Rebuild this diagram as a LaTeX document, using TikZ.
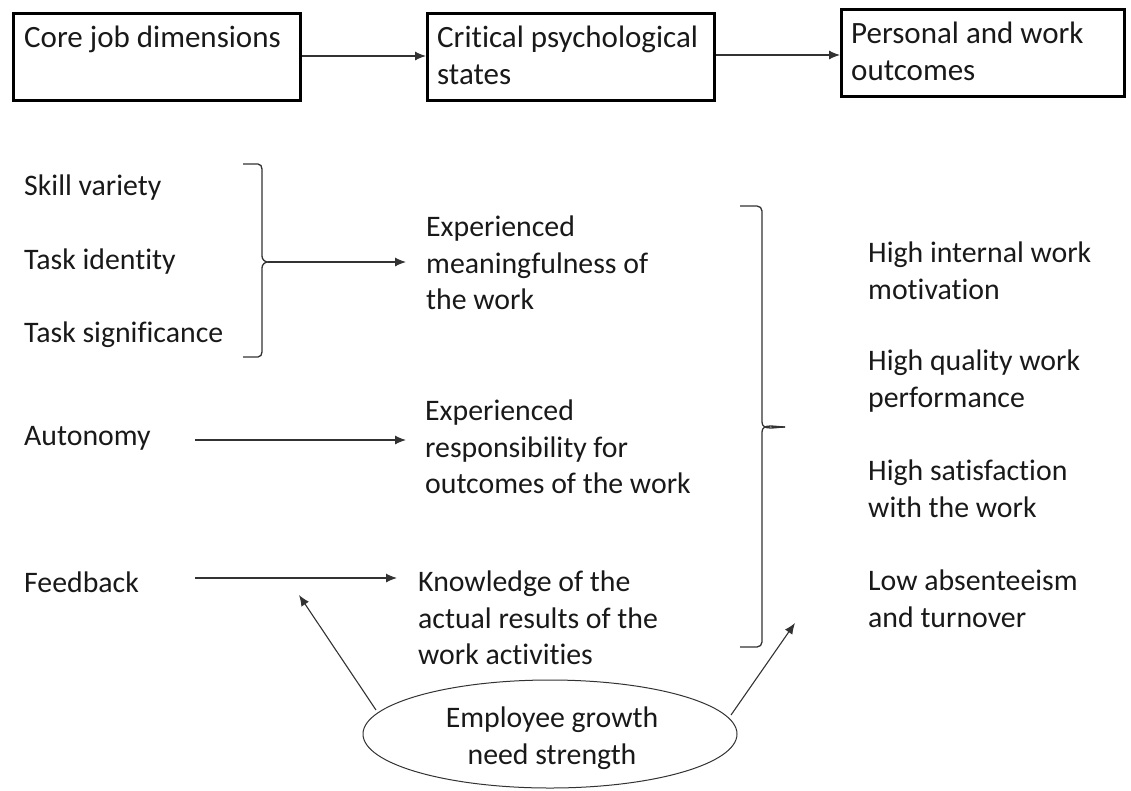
\documentclass[tikz,border=0pt]{standalone}
\usepackage{fontspec}
\setmainfont[Ligatures=NoCommon]{Carlito}
\usetikzlibrary{shapes.geometric,arrows.meta}
\definecolor{txt}{RGB}{25,25,25}
\definecolor{ln}{RGB}{50,50,50}
\tikzset{
  box/.style={draw=black,line width=2.6pt,minimum width=287pt,minimum height=87pt,anchor=north west,inner sep=0pt},
  lbl/.style={text=txt,align=left,inner sep=0pt,font=\fontsize{29.8}{36.6}\selectfont},
  toplbl/.style={lbl,font=\fontsize{31}{37}\selectfont},
  arr/.style={draw=ln,line width=1.1pt,-{Latex[length=11pt,width=9pt]}},
  brk/.style={draw=ln,line width=1.3pt},
  ell/.style={draw=ln,line width=1pt,ellipse,minimum width=374pt,minimum height=108pt,inner sep=0pt}
}
\begin{document}
\begin{tikzpicture}[x=1pt,y=-1pt]
\useasboundingbox (0,0) rectangle (1131,790);
% top boxes
\node[box] (b1) at (12,12) {};
\node[box] (b2) at (426,12) {};
\node[box,minimum width=283pt] (b3) at (840,8) {};
\node[toplbl,anchor=west] (t1) at (24,39) {Core job dimensions};
\node[toplbl,anchor=west] (t2) at (437,55) {Critical psychological\\states};
\node[toplbl,anchor=west] (t3) at (851,51) {Personal and work\\outcomes};
\draw[arr] (b1.east |- 0,56) -- (b2.west |- 0,56);
\draw[arr] (b2.east |- 0,55) -- (b3.west |- 0,55);
% left column
\node[lbl,anchor=west] (sv) at (24,188) {Skill variety};
\node[lbl,anchor=west] (ti) at (24,262) {Task identity};
\node[lbl,anchor=west] (ts) at (24,335) {Task significance};
\node[lbl,anchor=west] (au) at (24,438) {Autonomy};
\node[lbl,anchor=west] (fb) at (24,582) {Feedback};
% middle column
\node[lbl,anchor=west] (em) at (426,263) {Experienced\\meaningfulness of\\the work};
\node[lbl,anchor=west] (er) at (425,447) {Experienced\\responsibility for\\outcomes of the work};
\node[lbl,anchor=west] (kn) at (418,618) {Knowledge of the\\actual results of the\\work activities};
% right column
\node[lbl,anchor=west] (o1) at (868,271) {High internal work\\motivation};
\node[lbl,anchor=west] (o2) at (868,381) {High quality work\\performance};
\node[lbl,anchor=west] (o3) at (868,489) {High satisfaction\\with the work};
\node[lbl,anchor=west] (o4) at (868,599) {Low absenteeism\\and turnover};
% ellipse
\node[ell] (eg) at (550,734) {};
\node[lbl,align=center] (egt) at (552,738) {Employee growth\\need strength};
% bracket 1
\coordinate (k1) at (268,262);
\coordinate (k1e) at (406,262);
\draw[brk] (243,164) -- (258,164) to[out=0,in=90] (262,169) -- (262,256) to[out=-90,in=180] (k1) to[out=180,in=90] (262,268) -- (262,352) to[out=-90,in=0] (258,357) -- (243,357);
\draw[arr] (k1) -- (k1e);
% bracket 2
\coordinate (k2) at (785,427);
\draw[brk] (740,206) -- (757,206) to[out=0,in=90] (762,211) -- (762,422) to[out=-90,in=180] (k2);
\draw[brk] (k2) to[out=180,in=90] (762,432) -- (762,642) to[out=-90,in=0] (757,647) -- (740,647);
% arrows
\coordinate (aus) at (195,440);
\coordinate (aue) at (406,440);
\coordinate (fbs) at (195,578);
\coordinate (fbe) at (397,578);
\draw[arr] (aus) -- (aue);
\draw[arr] (fbs) -- (fbe);
\coordinate (ea) at (299,595);
\coordinate (eb) at (795,623);
\coordinate (eas) at (376,710);
\coordinate (ebs) at (731,715);
\draw[arr] (eas) -- (ea);
\draw[arr] (ebs) -- (eb);
\end{tikzpicture}
\end{document}
